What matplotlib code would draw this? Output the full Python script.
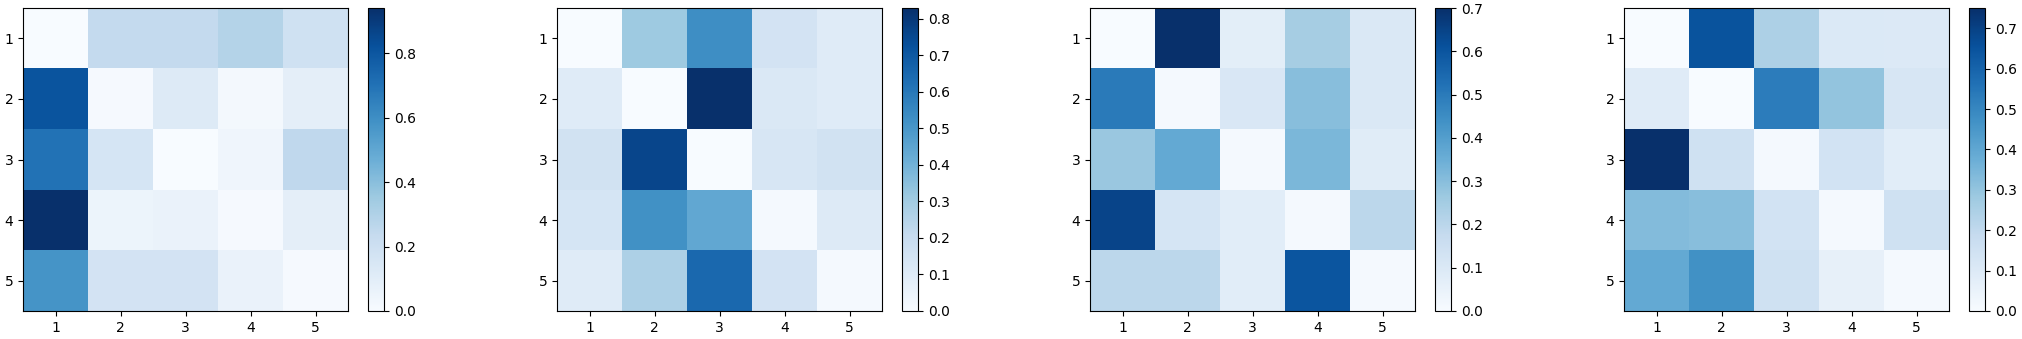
import matplotlib
matplotlib.use("Agg")
import matplotlib.pyplot as plt
import numpy as np

labels = [1, 2, 3, 4, 5]

# one 5x5 matrix per panel, rows top to bottom
matrix_a = [
    [0.00, 0.24, 0.24, 0.29, 0.19],
    [0.81, 0.01, 0.12, 0.02, 0.09],
    [0.70, 0.16, 0.00, 0.04, 0.25],
    [0.94, 0.05, 0.06, 0.01, 0.09],
    [0.58, 0.17, 0.17, 0.06, 0.01],
]
matrix_b = [
    [0.00, 0.31, 0.53, 0.15, 0.10],
    [0.10, 0.00, 0.83, 0.12, 0.10],
    [0.16, 0.76, 0.00, 0.13, 0.16],
    [0.14, 0.52, 0.44, 0.01, 0.11],
    [0.10, 0.27, 0.65, 0.15, 0.01],
]
matrix_c = [
    [0.00, 0.70, 0.07, 0.245, 0.10],
    [0.50, 0.01, 0.105, 0.30, 0.10],
    [0.27, 0.365, 0.01, 0.32, 0.08],
    [0.645, 0.12, 0.075, 0.01, 0.195],
    [0.195, 0.195, 0.075, 0.60, 0.01],
]
matrix_d = [
    [0.00, 0.65, 0.245, 0.105, 0.10],
    [0.09, 0.00, 0.53, 0.30, 0.12],
    [0.75, 0.15, 0.01, 0.14, 0.08],
    [0.33, 0.32, 0.14, 0.01, 0.15],
    [0.39, 0.47, 0.15, 0.06, 0.01],
]
matrices = [matrix_a, matrix_b, matrix_c, matrix_d]

W, H = 2022, 339
fig = plt.figure(figsize=(W / 100, H / 100), dpi=100)

ax_lefts = [23, 557, 1090, 1624]
for left, m in zip(ax_lefts, matrices):
    ax = fig.add_axes([left / W, 28 / H, 325 / W, 303 / H])
    im = ax.imshow(np.array(m), cmap="Blues", aspect="auto",
                   interpolation="nearest", vmin=0)
    ax.set_xticks(range(5))
    ax.set_xticklabels(labels)
    ax.set_yticks(range(5))
    ax.set_yticklabels(labels)
    cax = fig.add_axes([(left + 345) / W, 28 / H, 16 / W, 303 / H])
    fig.colorbar(im, cax=cax)

fig.savefig("out.png", dpi=100)
